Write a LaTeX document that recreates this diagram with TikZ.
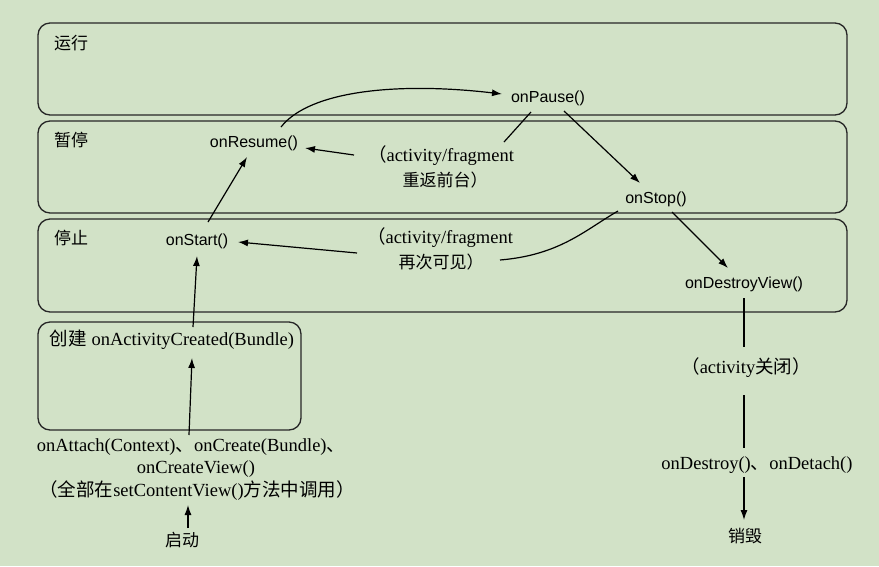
\documentclass[tikz,border=0pt]{standalone}
\usepackage{fontspec}
\setmainfont{Liberation Serif}
\newfontfamily\sfhelv{Liberation Sans}
\newfontfamily\cjk{Noto Sans CJK SC}
\usetikzlibrary{arrows.meta}
\definecolor{bg}{HTML}{D2E2C7}
\newcommand\zhs[1]{{\cjk #1}}
\begin{document}
\begin{tikzpicture}[x=1pt,y=-1pt,
 box/.style={draw=black!85, line width=1.3pt, rounded corners=12pt},
 meth/.style={font=\sfhelv\fontsize{16}{18}\selectfont, inner sep=1pt},
 txt/.style={font=\fontsize{18.5}{20}\selectfont, inner sep=1pt},
 zh/.style={font=\cjk\fontsize{17}{19}\selectfont, inner sep=1pt},
 arr/.style={line width=1.2pt, -{Latex[length=10pt,width=7pt]}},
 ln/.style={line width=1.2pt}]
\fill[bg] (0,0) rectangle (879,566);
\useasboundingbox (0,0) rectangle (879,566);
% state boxes
\draw[box] (38,23) rectangle (847,115);
\draw[box] (38,121) rectangle (847,213);
\draw[box] (38,219) rectangle (847,312);
\draw[box] (38,322) rectangle (301,430);
% labels
\node[zh] (lrun) at (71,43) {运行};
\node[zh] (lpause) at (71,140) {暂停};
\node[zh] (lstop) at (71,238) {停止};
\node[meth] (resume) at (254,143) {onResume()};
\node[meth] (pause) at (548,98) {onPause()};
\node[meth] (stop) at (656,199) {onStop()};
\node[meth] (start) at (197,241) {onStart()};
\node[meth] (dview) at (744,284) {onDestroyView()};
\node[txt] (ret1) at (441,156) {\zhs{（}activity/fragment};
\node[zh] (ret2) at (445,180) {重返前台）};
\node[txt] (vis1) at (440,238) {\zhs{（}activity/fragment};
\node[zh] (vis2) at (441,262) {再次可见）};
\node[txt] (ac) at (172,340) {\zhs{创建} onActivityCreated(Bundle)};
\node[txt] (close) at (746,368) {\zhs{（}activity\zhs{关闭）}};
\node[txt] (att1) at (191,447) {onAttach(Context)\zhs{、}onCreate(Bundle)\zhs{、}};
\node[txt] (att2) at (196,469) {onCreateView()};
\node[txt] (att3) at (197,491) {\zhs{（全部在}setContentView()\zhs{方法中调用）}};
\node[zh] (boot) at (182,540) {启动};
\node[txt] (destroy) at (757,465) {onDestroy()\zhs{、}onDetach()};
\node[zh] (xh) at (745,536) {销毁};
% connectors
\draw[arr] ([shift={(27,-16)}]resume.center) .. controls (310,90) and (400,82) .. ([shift={(-46,-4)}]pause.center);
\draw[arr] ([shift={(-87,-1)}]ret1.center) -- ([shift={(51,5)}]resume.center);
\draw[ln] ([shift={(-17,14)}]pause.center) -- ([shift={(63,-14)}]ret1.center);
\draw[arr] ([shift={(16,13)}]pause.center) -- ([shift={(-16,-16)}]stop.center);
\draw[arr] ([shift={(11,-19)}]start.center) -- ([shift={(-7,14)}]resume.center);
\draw[arr] ([shift={(-83,15)}]vis1.center) -- ([shift={(41,1)}]start.center);
\draw[ln] ([shift={(-38,12)}]stop.center) .. controls (585,230) and (560,255) .. ([shift={(59,-2)}]vis2.center);
\draw[arr] ([shift={(16,13)}]stop.center) -- ([shift={(-16,-16)}]dview.center);
\draw[ln] ([shift={(0,14)}]dview.center) -- ([shift={(-2,-21)}]close.center);
\draw[ln] ([shift={(-2,27)}]close.center) -- ([shift={(-13,-17)}]destroy.center);
\draw[arr] ([shift={(-13,12)}]destroy.center) -- ([shift={(-1,-16)}]xh.center);
\draw[arr] ([shift={(21,-13)}]ac.center) -- ([shift={(0,15)}]start.center);
\draw[arr] ([shift={(-2,-12)}]att1.center) -- ([shift={(20,18)}]ac.center);
\draw[arr] ([shift={(6,-12)}]boot.center) -- ([shift={(-9,14)}]att3.center);
\end{tikzpicture}
\end{document}
